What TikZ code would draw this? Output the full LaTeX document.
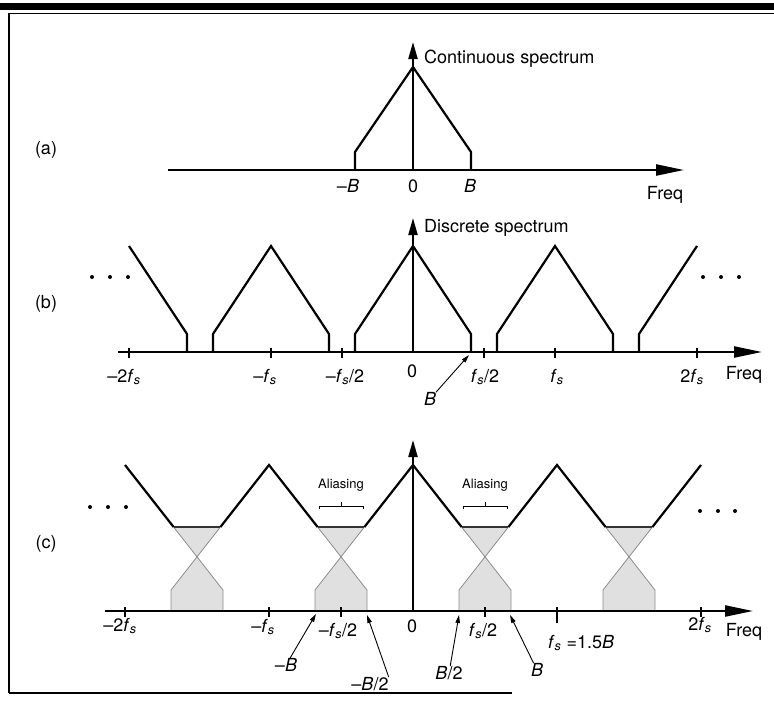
\documentclass[tikz,border=0pt]{standalone}
\usepackage{fontspec}
\setmainfont{TeX Gyre Heros}
\usetikzlibrary{arrows.meta}
\newcommand{\fsub}{\textit{f}\textsubscript{\textit{s}}}
\begin{document}
\begin{tikzpicture}[x=1pt,y=-1pt,
  tri/.style={line width=2.2pt},
  haxis/.style={line width=2.3pt,-{Triangle[length=28pt,width=11pt]}},
  vaxis/.style={line width=2.1pt,-{Triangle[length=17pt,width=9pt]}},
  tickmark/.style={line width=1.5pt},
  lbl/.style={font=\fontsize{18}{21}\selectfont,inner sep=0pt},
  smalllbl/.style={font=\fontsize{13}{15}\selectfont,inner sep=0pt},
  pointer/.style={line width=0.9pt,-{Triangle[length=8pt,width=4.5pt]}},
  aliasfill/.style={fill=black!12},
  ghost/.style={line width=0.8pt,black!45},
  flatline/.style={line width=1.4pt,black!80},
  bracket/.style={line width=0.9pt}]
\useasboundingbox (0,0) rectangle (774,704);
\fill[white] (0,0) rectangle (774,704);
% frame
\fill[black] (0,3) rectangle (774,10);
\draw[line width=1pt] (8,13.5) -- (774,13.5);
\draw[line width=1.2pt] (9,13) -- (9,693);
\draw[line width=1.5pt] (9,693) -- (512,693);

% ---------------- (a)
\node[lbl] (la) at (46,150) {(a)};
\draw[haxis] (168,170) -- (684,170);
\draw[vaxis] (413,170) -- (413,42);
\draw[tri] (355,170) -- (355,152) -- (413,67) -- (471,152) -- (471,170);
\node[lbl,anchor=base west] (ctitle) at (424,63) {Continuous spectrum};
\node[lbl,anchor=base] (aMB) at (348,192) {\textendash\textit{B}};
\node[lbl,anchor=base] (a0) at (413,192) {0};
\node[lbl,anchor=base] (aB) at (470,192) {\textit{B}};
\node[lbl,anchor=base] (aF) at (665,199) {Freq};

% ---------------- (b)
\node[lbl] (lb) at (46,304) {(b)};
\draw[haxis] (118,352) -- (762,352);
\foreach \t in {129,271,342,484,555,697}{\draw[tickmark] (\t,348) -- (\t,358);}
\draw[vaxis] (413,352) -- (413,218);
\draw[tri] (129,246) -- (187,334) -- (187,352);
\draw[tri] (213,352) -- (213,334) -- (271,246) -- (329,334) -- (329,352);
\draw[tri] (355,352) -- (355,334) -- (413,246) -- (471,334) -- (471,352);
\draw[tri] (497,352) -- (497,334) -- (555,246) -- (613,334) -- (613,352);
\draw[tri] (639,352) -- (639,334) -- (697,246);
\node[lbl,anchor=base west] (dtitle) at (424,232) {Discrete spectrum};
\foreach \d in {92,110,128,703,721,739}{\fill (\d,277) circle[radius=2];}
\node[lbl,anchor=base] (bm2) at (124,382) {\textendash2\fsub};
\node[lbl,anchor=base] (bm1) at (265,382) {\textendash\fsub};
\node[lbl,anchor=base] (bmh) at (345,382) {\textendash\fsub/2};
\node[lbl,anchor=base] (b0) at (412,377) {0};
\node[lbl,anchor=base] (bph) at (485,382) {\fsub/2};
\node[lbl,anchor=base] (bp1) at (557,382) {\fsub};
\node[lbl,anchor=base] (bp2) at (692,382) {2\fsub};
\node[lbl,anchor=base] (bF) at (744,379) {Freq};
\node[lbl] (bB) at (430,399) {\textit{B}};
\coordinate (bBt) at (469,355);
\draw[pointer] (bB) -- (bBt);

% ---------------- (c)
\node[lbl] (lc) at (46,544) {(c)};
\foreach \m in {197,341,485,629}{
  \fill[aliasfill] ({\m-23.4},527) -- ({\m+23.4},527) -- (\m,556.8) -- ({\m+26},590) -- ({\m+26},611)
     -- ({\m-26},611) -- ({\m-26},590) -- (\m,556.8) -- cycle;
  \draw[ghost] ({\m-23.4},527) -- ({\m+26},590) -- ({\m+26},611);
  \draw[ghost] ({\m+23.4},527) -- ({\m-26},590) -- ({\m-26},611);
  \draw[flatline] ({\m-23.4},527) -- ({\m+23.4},527);
}
\draw[haxis] (105,611) -- (753,611);
\foreach \t in {125,269,341,485,701}{\draw[tickmark] (\t,607) -- (\t,617);}
\draw[tickmark] (557,607) -- (557,623);
\draw[vaxis] (413,611) -- (413,440);
\draw[tri] (125,465) -- (173.6,527);
\draw[tri] (220.4,527) -- (269,465) -- (317.6,527);
\draw[tri] (364.4,527) -- (413,465) -- (461.6,527);
\draw[tri] (508.4,527) -- (557,465) -- (605.6,527);
\draw[tri] (652.4,527) -- (701,465);
\foreach \m in {341,485}{
  \draw[bracket] ({\m-22},509) -- ({\m-22},506) -- ({\m+22},506) -- ({\m+22},509);
  \draw[bracket] (\m,506) -- (\m,502);
}
\node[smalllbl] (al1) at (341,485) {Aliasing};
\node[smalllbl] (al2) at (485,485) {Aliasing};
\foreach \d in {90,108,126}{\fill (\d,507) circle[radius=2];}
\foreach \d in {700,718,735}{\fill (\d,511) circle[radius=2];}
\node[lbl,anchor=base] (cm2) at (120,631) {\textendash2\fsub};
\node[lbl,anchor=base] (cm1) at (263,632) {\textendash\fsub};
\node[lbl,anchor=base] (cmh) at (338,636) {\textendash\fsub/2};
\node[lbl,anchor=base] (c0) at (412,632) {0};
\node[lbl,anchor=base] (cph) at (483,636) {\fsub/2};
\node[lbl,anchor=base west] (cp1) at (548,648) {\fsub\ =1.5\textit{B}};
\node[lbl,anchor=base] (cp2) at (700,630) {2\fsub};
\node[lbl,anchor=base] (cF) at (744,636) {Freq};
\node[lbl] (cMB) at (286,665) {\textendash\textit{B}};
\node[lbl] (cMBh) at (370,684) {\textendash\textit{B}/2};
\node[lbl] (cBh) at (449,673) {\textit{B}/2};
\node[lbl] (cB) at (537,670) {\textit{B}};
\coordinate (tMB) at (316,614);
\coordinate (tMBh) at (367,615);
\coordinate (tBh) at (459,615);
\coordinate (tB) at (510,615);
\draw[pointer] (cMB) -- (tMB);
\draw[pointer] (cMBh.north east) -- (tMBh);
\draw[pointer] (cBh) -- (tBh);
\draw[pointer] (cB) -- (tB);
\end{tikzpicture}
\end{document}
